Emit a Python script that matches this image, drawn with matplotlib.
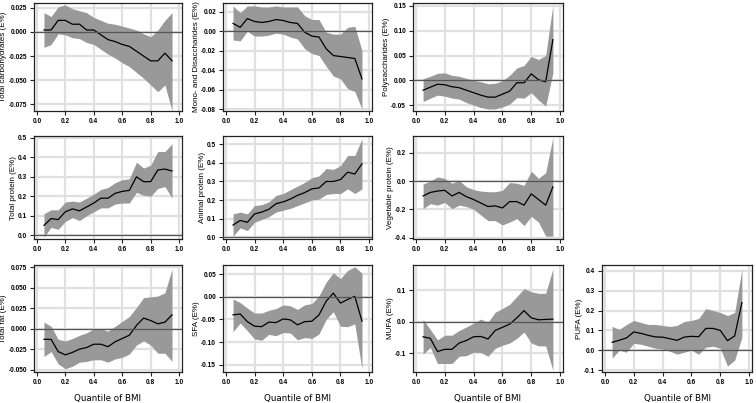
import numpy as np
import matplotlib
matplotlib.use("Agg")
import matplotlib.pyplot as plt

q = [0.05, 0.10, 0.15, 0.20, 0.25, 0.30, 0.35, 0.40, 0.45, 0.50,
     0.55, 0.60, 0.65, 0.70, 0.75, 0.80, 0.85, 0.90, 0.95]

# Total carbohydrates
carb_est = [0.002, 0.002, 0.012, 0.012, 0.008, 0.008, 0.002, 0.002, -0.003, -0.008,
            -0.010, -0.013, -0.015, -0.020, -0.025, -0.030, -0.030, -0.022, -0.030]
carb_hi = [0.020, 0.016, 0.026, 0.028, 0.024, 0.022, 0.020, 0.015, 0.012, 0.009,
           0.008, 0.006, 0.004, 0.002, -0.002, -0.005, 0.002, 0.012, 0.020]
carb_lo = [-0.016, -0.013, -0.002, -0.003, -0.006, -0.007, -0.011, -0.013, -0.018, -0.023,
           -0.027, -0.032, -0.036, -0.042, -0.048, -0.055, -0.062, -0.055, -0.082]

# Mono- and disaccharides
mono_est = [0.008, 0.004, 0.013, 0.010, 0.009, 0.010, 0.012, 0.011, 0.009, 0.008,
            -0.001, -0.005, -0.006, -0.018, -0.025, -0.026, -0.027, -0.028, -0.049]
mono_hi = [0.026, 0.019, 0.026, 0.026, 0.025, 0.025, 0.026, 0.025, 0.025, 0.025,
           0.016, 0.012, 0.012, -0.001, -0.003, -0.003, 0.004, 0.005, -0.020]
mono_lo = [-0.009, -0.010, 0.000, -0.005, -0.005, -0.004, -0.002, -0.003, -0.006, -0.008,
           -0.018, -0.023, -0.025, -0.036, -0.046, -0.049, -0.059, -0.062, -0.080]

# Polysaccharides
poly_est = [-0.020, -0.014, -0.008, -0.009, -0.013, -0.015, -0.020, -0.025, -0.030, -0.034,
            -0.034, -0.028, -0.022, -0.005, -0.005, 0.013, 0.001, -0.003, 0.082]
poly_hi = [0.003, 0.008, 0.014, 0.015, 0.010, 0.008, 0.004, 0.000, -0.003, -0.007,
           -0.006, -0.001, 0.010, 0.025, 0.030, 0.048, 0.042, 0.050, 0.152]
poly_lo = [-0.043, -0.036, -0.030, -0.032, -0.036, -0.038, -0.045, -0.050, -0.055, -0.058,
           -0.058, -0.054, -0.048, -0.035, -0.036, -0.025, -0.040, -0.052, 0.015]

# Total protein
prot_est = [0.050, 0.085, 0.080, 0.120, 0.135, 0.125, 0.145, 0.165, 0.190, 0.190,
            0.215, 0.225, 0.230, 0.300, 0.275, 0.275, 0.335, 0.340, 0.330]
prot_hi = [0.110, 0.130, 0.130, 0.170, 0.175, 0.170, 0.190, 0.210, 0.235, 0.245,
           0.270, 0.285, 0.290, 0.375, 0.345, 0.360, 0.430, 0.430, 0.470]
prot_lo = [-0.010, 0.040, 0.030, 0.070, 0.090, 0.075, 0.100, 0.120, 0.140, 0.140,
           0.160, 0.165, 0.165, 0.220, 0.205, 0.200, 0.240, 0.250, 0.190]

# Animal protein
anim_est = [0.065, 0.090, 0.080, 0.125, 0.135, 0.150, 0.180, 0.190, 0.205, 0.225,
            0.240, 0.260, 0.265, 0.300, 0.300, 0.310, 0.350, 0.340, 0.395]
anim_hi = [0.125, 0.135, 0.125, 0.170, 0.175, 0.190, 0.225, 0.235, 0.255, 0.275,
           0.295, 0.320, 0.330, 0.370, 0.365, 0.385, 0.440, 0.440, 0.530]
anim_lo = [0.005, 0.050, 0.035, 0.080, 0.095, 0.110, 0.135, 0.145, 0.155, 0.170,
           0.185, 0.200, 0.205, 0.230, 0.235, 0.235, 0.260, 0.235, 0.260]

# Vegetable protein
veg_est = [-0.105, -0.080, -0.070, -0.065, -0.105, -0.080, -0.110, -0.130, -0.155, -0.180,
           -0.175, -0.190, -0.145, -0.145, -0.170, -0.090, -0.130, -0.170, -0.040]
veg_hi = [-0.020, 0.000, 0.030, 0.020, -0.015, 0.005, -0.040, -0.060, -0.070, -0.075,
          -0.075, -0.065, -0.010, -0.015, -0.030, 0.070, 0.020, 0.060, 0.310]
veg_lo = [-0.195, -0.160, -0.170, -0.150, -0.195, -0.170, -0.180, -0.200, -0.240, -0.280,
          -0.280, -0.310, -0.290, -0.265, -0.315, -0.250, -0.290, -0.390, -0.390]

# Total fat
fat_est = [-0.013, -0.013, -0.028, -0.032, -0.029, -0.025, -0.023, -0.019, -0.019, -0.022,
           -0.016, -0.012, -0.008, 0.004, 0.013, 0.010, 0.006, 0.008, 0.017]
fat_hi = [0.008, 0.003, -0.013, -0.015, -0.012, -0.008, -0.005, 0.000, 0.000, -0.003,
          0.003, 0.009, 0.015, 0.026, 0.038, 0.039, 0.040, 0.044, 0.073]
fat_lo = [-0.034, -0.028, -0.043, -0.049, -0.046, -0.041, -0.040, -0.038, -0.038, -0.041,
          -0.037, -0.035, -0.031, -0.020, -0.015, -0.020, -0.030, -0.030, -0.040]

# SFA
sfa_est = [-0.040, -0.038, -0.055, -0.065, -0.066, -0.056, -0.057, -0.049, -0.051, -0.062,
           -0.055, -0.054, -0.040, -0.010, 0.008, -0.014, -0.006, 0.001, -0.054]
sfa_hi = [-0.005, -0.013, -0.025, -0.036, -0.036, -0.030, -0.026, -0.018, -0.020, -0.028,
          -0.018, -0.015, 0.002, 0.032, 0.053, 0.040, 0.058, 0.066, 0.052]
sfa_lo = [-0.077, -0.058, -0.075, -0.093, -0.096, -0.083, -0.086, -0.079, -0.080, -0.095,
          -0.090, -0.092, -0.082, -0.050, -0.033, -0.065, -0.066, -0.060, -0.160]

# MUFA
mufa_est = [-0.048, -0.053, -0.095, -0.088, -0.088, -0.068, -0.060, -0.048, -0.047, -0.055,
            -0.028, -0.018, -0.008, 0.012, 0.035, 0.012, 0.006, 0.007, 0.008]
mufa_hi = [0.007, -0.025, -0.058, -0.043, -0.043, -0.028, -0.017, -0.005, 0.008, -0.002,
           0.030, 0.042, 0.055, 0.080, 0.105, 0.095, 0.090, 0.090, 0.168]
mufa_lo = [-0.103, -0.082, -0.133, -0.133, -0.133, -0.110, -0.108, -0.097, -0.098, -0.110,
           -0.085, -0.075, -0.068, -0.053, -0.033, -0.068, -0.077, -0.077, -0.155]

# PUFA
pufa_est = [0.040, 0.050, 0.062, 0.092, 0.085, 0.075, 0.067, 0.066, 0.058, 0.050,
            0.066, 0.070, 0.068, 0.110, 0.110, 0.100, 0.048, 0.072, 0.240]
pufa_hi = [0.120, 0.105, 0.130, 0.150, 0.140, 0.130, 0.130, 0.125, 0.120, 0.125,
           0.145, 0.150, 0.160, 0.210, 0.200, 0.190, 0.175, 0.190, 0.410]
pufa_lo = [-0.040, 0.000, -0.010, 0.035, 0.030, 0.020, 0.010, 0.005, -0.005, -0.020,
           -0.010, 0.000, -0.020, 0.015, 0.020, 0.010, -0.080, -0.050, 0.065]

W, H = 756, 403
fig = plt.figure(figsize=(W / 100, H / 100), dpi=100)

col_x = [(34, 182), (223, 372), (413, 563), (602, 752)]
row_y = [(3, 111), (136, 239), (265, 372)]

panels = [
    (0, 0, "Total carbohydrates (E%)", carb_est, carb_lo, carb_hi,
     (-0.082, 0.030), [-0.075, -0.050, -0.025, 0.000, 0.025], "{:.3f}"),
    (0, 1, "Mono- and Disaccharides (E%)", mono_est, mono_lo, mono_hi,
     (-0.082, 0.029), [-0.08, -0.06, -0.04, -0.02, 0.00, 0.02], "{:.2f}"),
    (0, 2, "Polysaccharides (E%)", poly_est, poly_lo, poly_hi,
     (-0.062, 0.156), [-0.05, 0.00, 0.05, 0.10, 0.15], "{:.2f}"),
    (1, 0, "Total protein (E%)", prot_est, prot_lo, prot_hi,
     (-0.02, 0.51), [0.0, 0.1, 0.2, 0.3, 0.4, 0.5], "{:.1f}"),
    (1, 1, "Animal protein (E%)", anim_est, anim_lo, anim_hi,
     (-0.01, 0.545), [0.0, 0.1, 0.2, 0.3, 0.4, 0.5], "{:.1f}"),
    (1, 2, "Vegetable protein (E%)", veg_est, veg_lo, veg_hi,
     (-0.41, 0.32), [-0.4, -0.2, 0.0, 0.2], "{:.1f}"),
    (2, 0, "Total fat (E%)", fat_est, fat_lo, fat_hi,
     (-0.053, 0.078), [-0.050, -0.025, 0.000, 0.025, 0.050, 0.075], "{:.3f}"),
    (2, 1, "SFA (E%)", sfa_est, sfa_lo, sfa_hi,
     (-0.166, 0.070), [-0.15, -0.10, -0.05, 0.00, 0.05], "{:.2f}"),
    (2, 2, "MUFA (E%)", mufa_est, mufa_lo, mufa_hi,
     (-0.16, 0.18), [-0.1, 0.0, 0.1], "{:.1f}"),
    (2, 3, "PUFA (E%)", pufa_est, pufa_lo, pufa_hi,
     (-0.11, 0.43), [-0.1, 0.0, 0.1, 0.2, 0.3, 0.4], "{:.1f}"),
]

xt = [0.0, 0.2, 0.4, 0.6, 0.8, 1.0]
tick_font = dict(family="Liberation Sans", fontsize=4.7, fontweight="bold")

for r, c, label, est, lo, hi, ylim, yticks, fmt in panels:
    x0, x1 = col_x[c]
    y0, y1 = row_y[r]
    ax = fig.add_axes([x0 / W, 1 - y1 / H, (x1 - x0) / W, (y1 - y0) / H])
    ax.fill_between(q, lo, hi, color="#999999", lw=0, zorder=2)
    ax.plot(q, est, color="black", lw=0.9, zorder=3)
    ax.axhline(0, color="#555555", lw=0.9, zorder=4)
    ax.set_xlim(-0.02, 1.02)
    ax.set_ylim(*ylim)
    ax.set_xticks(xt)
    ax.set_xticklabels(["{:.1f}".format(v) for v in xt], **tick_font)
    ax.set_yticks(yticks)
    ax.set_yticklabels([fmt.format(v) for v in yticks], **tick_font)
    ax.grid(True, color="#e0e0e0", lw=1.6, zorder=0)
    ax.set_axisbelow(True)
    ax.tick_params(length=3, width=0.8, pad=2, color="#222222")
    for s in ax.spines.values():
        s.set_linewidth(0.9)
        s.set_color("#222222")
    ax.set_ylabel(label, family="Liberation Sans", fontsize=5.8, labelpad=0.8)
    if r == 2:
        ax.set_xlabel("Quantile of BMI", fontsize=6.3, labelpad=6)

fig.savefig("out.png", dpi=100)
